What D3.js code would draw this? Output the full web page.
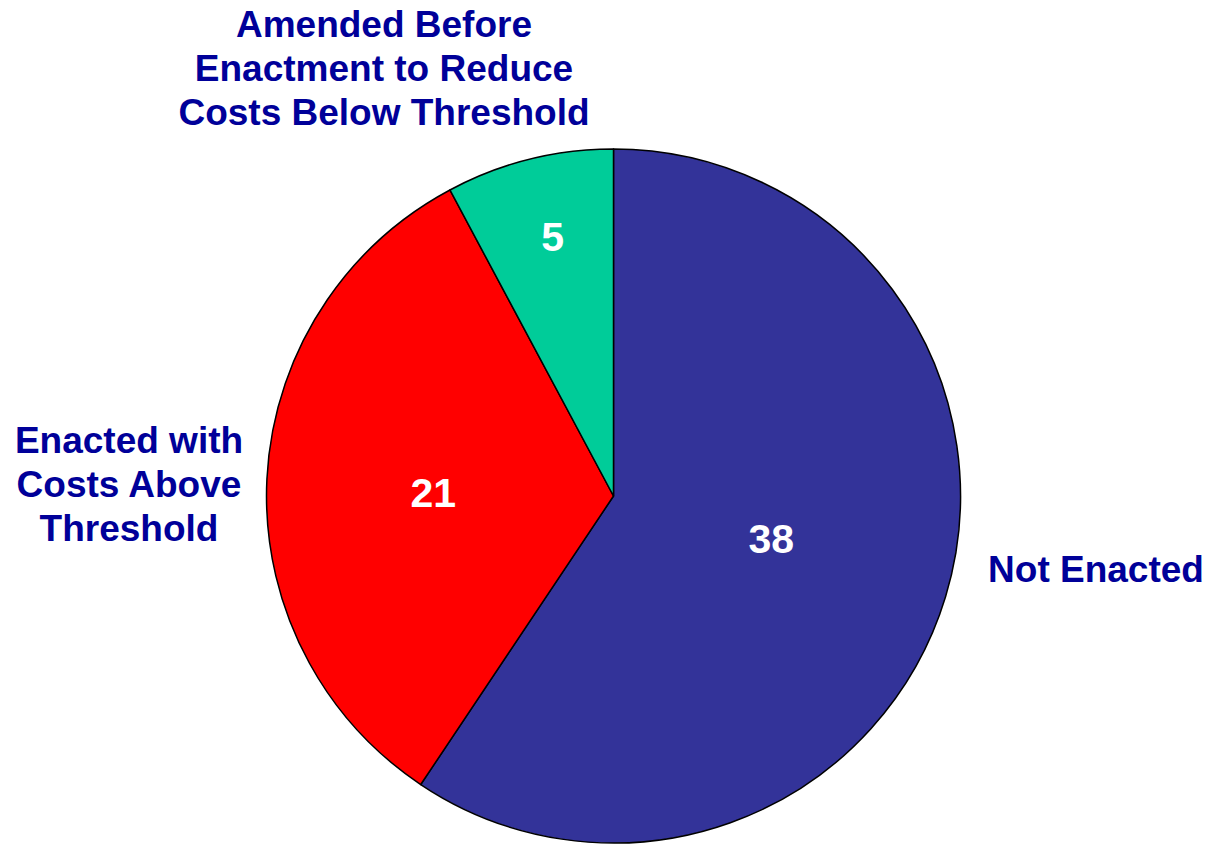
<!DOCTYPE html>
<html>
<head>
<meta charset="utf-8">
<script src="https://cdn.jsdelivr.net/npm/d3@7"></script>
<style>
  html, body { margin: 0; padding: 0; background: #fff; }
  svg { display: block; }
</style>
</head>
<body>
<svg id="chart" width="1209" height="844"></svg>
<script>
const categories = ["Not Enacted", "Enacted with Costs Above Threshold", "Amended Before Enactment to Reduce Costs Below Threshold"];
const values = [38, 21, 5];
const colors = ["#333399", "#FF0000", "#00CC99"];
const labelLines = [
  ["Not Enacted"],
  ["Enacted with", "Costs Above", "Threshold"],
  ["Amended Before", "Enactment to Reduce", "Costs Below Threshold"]
];

// layout (not data)
const W = 1209, H = 844;
const cx = 613.5, cy = 496, R = 347;
const valueRadiusFrac = [0.475, 0.52, 0.77];
const valueNudge = [[0, -6], [0, 5], [4, -1]];
const outerLabelPos = [
  { x: 1096, y: 582 },   // baseline of first line
  { x: 129, y: 453 },
  { x: 384, y: 37 }
];
const lineH = 44;
const font = "'Liberation Sans', Arial, sans-serif";

const svg = d3.select("#chart");
const g = svg.append("g").attr("transform", `translate(${cx},${cy})`);

const pie = d3.pie().sort(null).value(d => d).startAngle(0).endAngle(2 * Math.PI);
const arcs = pie(values);
const arc = d3.arc().innerRadius(0).outerRadius(R);

g.selectAll("path.slice")
  .data(arcs)
  .join("path")
  .attr("class", "slice")
  .attr("d", arc)
  .attr("fill", (d, i) => colors[i])
  .attr("stroke", "#000")
  .attr("stroke-width", 1.5)
  .attr("stroke-linejoin", "round");

g.selectAll("text.val")
  .data(arcs)
  .join("text")
  .attr("class", "val")
  .attr("transform", (d, i) => {
    const a = (d.startAngle + d.endAngle) / 2;
    const r = R * valueRadiusFrac[i];
    return `translate(${r * Math.sin(a) + valueNudge[i][0]},${-r * Math.cos(a) + valueNudge[i][1]})`;
  })
  .attr("text-anchor", "middle")
  .attr("dy", "0.36em")
  .attr("font-family", font)
  .attr("font-weight", "bold")
  .attr("font-size", 41)
  .attr("fill", "#fff")
  .text(d => d.data);

labelLines.forEach((lines, i) => {
  const t = svg.append("text")
    .attr("text-anchor", "middle")
    .attr("font-family", font)
    .attr("font-weight", "bold")
    .attr("font-size", 37)
    .attr("fill", "#000099");
  lines.forEach((ln, j) => {
    t.append("tspan")
      .attr("x", outerLabelPos[i].x)
      .attr("y", outerLabelPos[i].y + j * lineH)
      .text(ln);
  });
});
</script>
</body>
</html>
